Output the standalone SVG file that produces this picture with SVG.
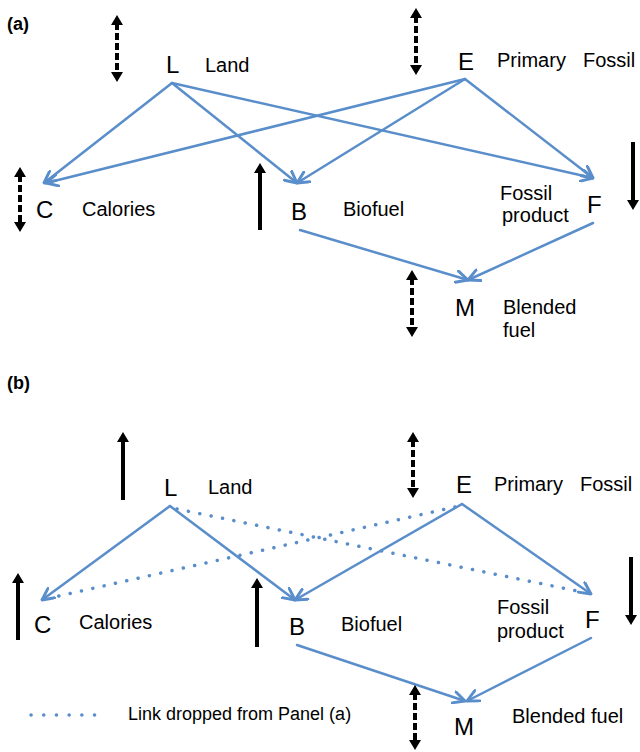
<svg xmlns="http://www.w3.org/2000/svg" width="640" height="752" viewBox="0 0 640 752">
<style>
  text { font-family: "Liberation Sans", Arial, sans-serif; fill: #000; }
  .panel { font-size: 18px; font-weight: bold; }
  .node { font-size: 24px; }
  .lbl { font-size: 20px; }
  .legend { font-size: 18px; }
  .link { stroke: #5a8ecb; stroke-width: 2.5; fill: none; stroke-linecap: round; }
  .arr { marker-end: url(#chev); }
  .drop { stroke: #5a8ecb; stroke-width: 3.5; fill: none; stroke-linecap: round; stroke-dasharray: 0.1 11.5; }
  .blk { stroke: #000; stroke-width: 4; fill: none; }
  .solid { marker-end: url(#tri); }
  .dash { stroke-dasharray: 7 3; marker-start: url(#tri); marker-end: url(#tri); }
</style>
<defs>
  <marker id="chev" markerUnits="userSpaceOnUse" markerWidth="14" markerHeight="14" viewBox="0 0 12 12" refX="11" refY="6" orient="auto">
    <path d="M1,1 L11,6 L1,11" fill="none" stroke="#5a8ecb" stroke-width="2.5" stroke-linecap="round" stroke-linejoin="round"/>
  </marker>
  <marker id="tri" markerUnits="userSpaceOnUse" markerWidth="12" markerHeight="12" viewBox="0 0 10 12" refX="2" refY="6" orient="auto-start-reverse">
    <path d="M0,0 L10,6 L0,12 z" fill="#000"/>
  </marker>
</defs>

<!-- Panel labels -->
<text class="panel" x="7" y="30">(a)</text>
<text class="panel" x="7" y="389">(b)</text>

<!-- Connectors -->
<g id="connectors">
  <!-- Panel (a) -->
  <line class="link arr" x1="172" y1="83" x2="44" y2="183"/>
  <line class="link arr" x1="172" y1="83" x2="297" y2="183"/>
  <line class="link arr" x1="172" y1="83" x2="593" y2="178"/>
  <line class="link arr" x1="465" y1="79" x2="46" y2="183"/>
  <line class="link arr" x1="465" y1="79" x2="297" y2="183"/>
  <line class="link arr" x1="465" y1="79" x2="593" y2="178"/>
  <line class="link arr" x1="300" y1="230" x2="468" y2="280"/>
  <line class="link arr" x1="593" y1="223" x2="468" y2="280"/>

  <!-- Panel (b) -->
  <line class="link arr" x1="170" y1="506" x2="42" y2="600"/>
  <line class="link arr" x1="170" y1="506" x2="295" y2="600"/>
  <line class="link arr" x1="462" y1="504" x2="295" y2="600"/>
  <line class="link arr" x1="462" y1="504" x2="591" y2="594"/>
  <line class="drop" x1="177" y1="509" x2="582" y2="592"/>
  <line class="drop" x1="455" y1="507" x2="50" y2="598"/>
  <line class="link arr" x1="297" y1="645" x2="465" y2="701"/>
  <line class="link arr" x1="591" y1="638" x2="467" y2="701"/>

  <!-- Black change arrows, panel (a) -->
  <line class="blk dash" x1="117" y1="23" x2="117" y2="74"/>
  <line class="blk dash" x1="416" y1="16" x2="416" y2="67"/>
  <line class="blk dash" x1="20" y1="175" x2="20" y2="224"/>
  <line class="blk dash" x1="412" y1="278" x2="412" y2="329"/>
  <line class="blk solid" x1="260" y1="230" x2="260" y2="171"/>
  <line class="blk solid" x1="633" y1="142" x2="633" y2="202"/>

  <!-- Black change arrows, panel (b) -->
  <line class="blk solid" x1="123" y1="500" x2="123" y2="440"/>
  <line class="blk dash" x1="413" y1="440" x2="413" y2="490"/>
  <line class="blk solid" x1="18" y1="640" x2="18" y2="581"/>
  <line class="blk solid" x1="257" y1="647" x2="257" y2="586"/>
  <line class="blk solid" x1="631" y1="557" x2="631" y2="617"/>
  <line class="blk dash" x1="415" y1="693" x2="415" y2="742"/>

  <!-- Legend -->
  <line class="drop" x1="31" y1="715" x2="107" y2="715" style="stroke-dasharray: 0.1 12.6"/>
</g>

<!-- Panel (a) nodes -->
<g id="a-L"><text class="node" x="166" y="73">L</text><text class="lbl" x="205" y="72">Land</text></g>
<g id="a-E"><text class="node" x="458" y="70">E</text><text class="lbl" y="67"><tspan x="497">Primary</tspan><tspan x="583">Fossil</tspan></text></g>
<g id="a-C"><text class="node" x="36" y="218">C</text><text class="lbl" x="82" y="216">Calories</text></g>
<g id="a-B"><text class="node" x="291" y="220">B</text><text class="lbl" x="343" y="216">Biofuel</text></g>
<g id="a-F"><text class="node" x="587" y="213">F</text><text class="lbl" x="500" y="200">Fossil</text><text class="lbl" x="502" y="222">product</text></g>
<g id="a-M"><text class="node" x="455" y="316">M</text><text class="lbl" x="503" y="314">Blended</text><text class="lbl" x="503" y="337">fuel</text></g>

<!-- Panel (b) nodes -->
<g id="b-L"><text class="node" x="164" y="496">L</text><text class="lbl" x="208" y="494">Land</text></g>
<g id="b-E"><text class="node" x="456" y="493">E</text><text class="lbl" y="491"><tspan x="494">Primary</tspan><tspan x="580">Fossil</tspan></text></g>
<g id="b-C"><text class="node" x="34" y="633">C</text><text class="lbl" x="79" y="629">Calories</text></g>
<g id="b-B"><text class="node" x="289" y="635">B</text><text class="lbl" x="341" y="631">Biofuel</text></g>
<g id="b-F"><text class="node" x="585" y="628">F</text><text class="lbl" x="497" y="614">Fossil</text><text class="lbl" x="497" y="638">product</text></g>
<g id="b-M"><text class="node" x="454" y="735">M</text><text class="lbl" x="512" y="723">Blended fuel</text></g>

<!-- Legend -->
<g id="legend"><text class="legend" x="128" y="720">Link dropped from Panel (a)</text></g>
</svg>
